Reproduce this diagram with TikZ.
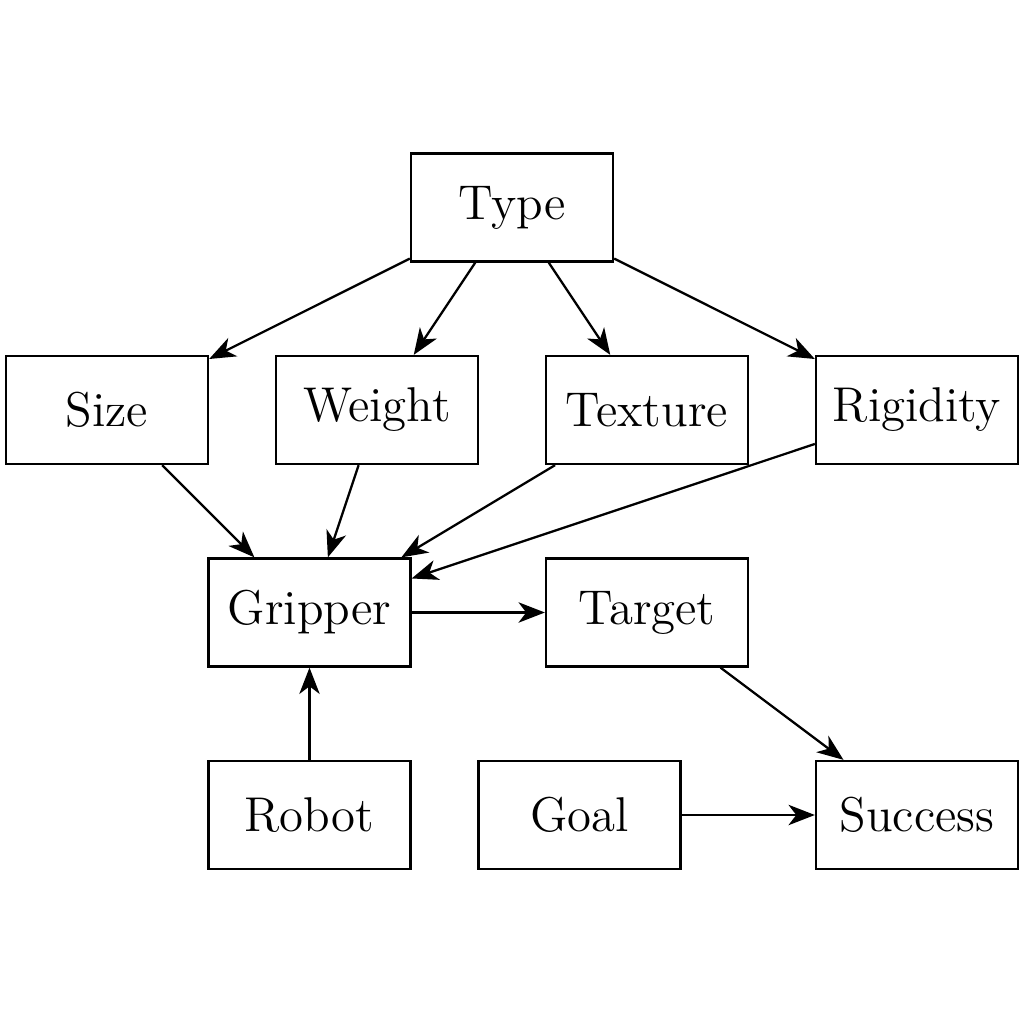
\documentclass[tikz,border=0pt]{standalone}
\usepackage{tikz}
\usepackage{amsmath}
\usetikzlibrary{arrows.meta, positioning}

\tikzset{
    var/.style={draw, rectangle, minimum width=2.02cm, minimum height=1.08cm,
        inner sep=0pt, font=\fontsize{13.9}{16}\selectfont}
}

\begin{document}
\begin{tikzpicture}[>={Stealth[length=7.5pt,width=5.8pt,inset=2.2pt]}, line width=0.65pt]

			\useasboundingbox (-1.07,-6.14) rectangle (9.17,4.10);

			\node[var] (type) at (4.05,2.025) {Type};

			\node[var] (size) at (0,0) {Size};
			\node[var] (weight) at (2.70,0) {Weight};
			\node[var] (texture) at (5.40,0) {Texture};
			\node[var] (rigidity) at (8.10,0) {Rigidity};

			\node[var] (gripper) at (2.025,-2.025) {Gripper};
			\node[var] (target) at (5.40,-2.025) {Target};

			\node[var] (robot) at (2.025,-4.05) {Robot};
			\node[var] (goal) at (4.725,-4.05) {Goal};
			\node[var] (success) at (8.10,-4.05) {Success};

			\foreach \n in {size, weight, texture, rigidity} {
					\draw[->] (type) -- (\n);
					\draw[->] (\n) -- (gripper);
				}

			\draw[->] (gripper) -- (target);
			\draw[->] (robot) -- (gripper);
			\draw[->] (target) -- (success);
			\draw[->] (goal) -- (success);

		\end{tikzpicture}
\end{document}
